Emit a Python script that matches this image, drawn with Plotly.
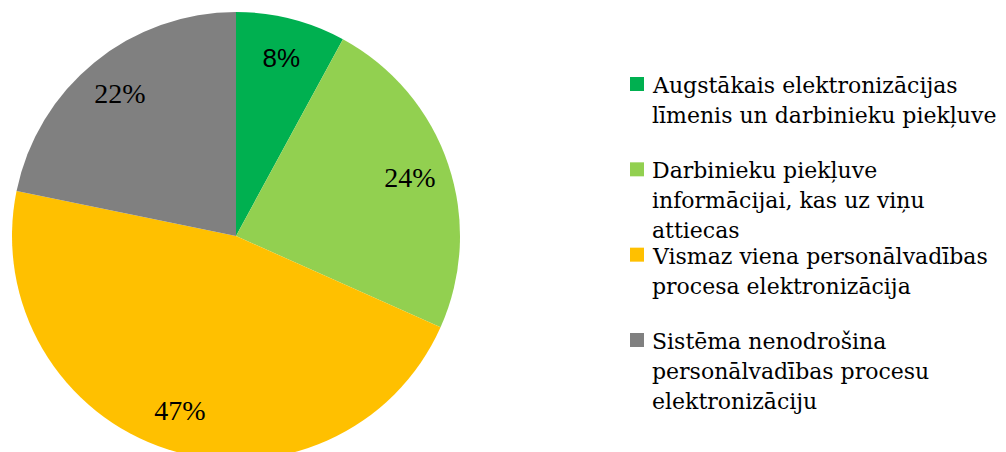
import plotly.graph_objects as go

categories = [
    "Augstākais elektronizācijas<br>līmenis un darbinieku piekļuve",
    "Darbinieku piekļuve<br>informācijai, kas uz viņu<br>attiecas",
    "Vismaz viena personālvadības<br>procesa elektronizācija",
    "Sistēma nenodrošina<br>personālvadības procesu<br>elektronizāciju",
]
values = [8, 24, 47, 22]
colors = ["#00B050", "#92D050", "#FFC000", "#808080"]

W, H = 1006, 452
OFF = 8  # page body margin offset

pie_domain = dict(x=[4 / W, 452 / W], y=[0, 1 - 4 / H])
labels = [c.replace("<br>", " ") for c in categories]

fig = go.Figure()
# coloured slices
fig.add_trace(go.Pie(
    labels=labels,
    values=values,
    textinfo="none",
    sort=False,
    direction="clockwise",
    rotation=0,
    marker=dict(colors=colors, line=dict(width=0)),
    hoverinfo="label+percent",
    domain=pie_domain,
    showlegend=False,
))
# transparent ring carrying the percentage labels near the outer edge
fig.add_trace(go.Pie(
    labels=labels,
    values=values,
    hole=0.64,
    text=[f"{v}%" for v in values],
    textinfo="text",
    textposition="inside",
    insidetextorientation="horizontal",
    sort=False,
    direction="clockwise",
    rotation=0,
    marker=dict(colors=["rgba(0,0,0,0)"] * len(values), line=dict(width=0)),
    textfont=dict(
        family=["Liberation Sans", "Liberation Serif", "Liberation Serif", "Liberation Serif"],
        size=[26, 28, 28, 28],
        color="#000000",
    ),
    hoverinfo="skip",
    domain=pie_domain,
    showlegend=False,
))

# Custom legend (square + multi-line text)
legend_top = 77 - OFF
step = 85.33
sq = 14
line_gap = 30
text_x = 650 - OFF
for i, (cat, col) in enumerate(zip(categories, colors)):
    top = legend_top + i * step
    fig.add_shape(type="rect", xref="paper", yref="paper",
                  x0=(630 - OFF) / W, x1=(630 - OFF + sq) / W,
                  y0=1 - (top + sq) / H, y1=1 - top / H,
                  fillcolor=col, line=dict(width=0))
    for j, line in enumerate(cat.split("<br>")):
        baseline = top + 16 + j * line_gap
        center = baseline - 7.6
        fig.add_annotation(text=line, xref="paper", yref="paper",
                           x=text_x / W, y=1 - center / H,
                           xanchor="left", yanchor="middle",
                           showarrow=False,
                           font=dict(family="DejaVu Serif", size=22, color="#000000"))

fig.update_layout(
    width=W, height=H,
    margin=dict(l=0, r=0, t=0, b=0),
    paper_bgcolor="white",
    plot_bgcolor="white",
)

fig.write_html("out.html")
